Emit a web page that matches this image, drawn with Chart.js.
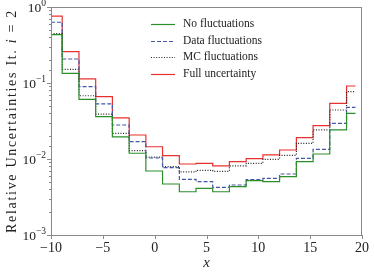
<!DOCTYPE html>
<html>
<head>
<meta charset="utf-8">
<script src="https://cdn.jsdelivr.net/npm/chart.js@4.4.1/dist/chart.umd.min.js"></script>
<style>
  html, body { margin: 0; padding: 0; background: #fff; }
  #wrap { width: 374px; height: 272px; }
</style>
</head>
<body>
<div id="wrap"><canvas id="relChart" width="374" height="272"></canvas></div>
<script>
// bin edges along x; the last entry closes the final bin
const binEdges = [-10, -8.92, -7.30, -5.69, -4.08, -2.46, -0.85, 0.76, 2.38, 3.99, 5.60, 7.21, 8.83, 10.44, 12.05, 13.67, 15.28, 16.89, 18.51, 19.37];

// relative uncertainty per bin
const noFluct   = [0.432, 0.134, 0.061, 0.036, 0.0196, 0.0119, 0.00695, 0.00469, 0.00371, 0.00411, 0.00371, 0.00432, 0.00518, 0.00503, 0.00585, 0.00922, 0.01164, 0.0241, 0.0399];
const dataFluct = [0.63, 0.207, 0.0894, 0.053, 0.028, 0.0169, 0.0103, 0.00769, 0.0054, 0.00503, 0.00424, 0.00455, 0.00534, 0.00557, 0.00635, 0.0102, 0.0134, 0.0295, 0.0479];
const mcFluct   = [0.445, 0.151, 0.068, 0.039, 0.0218, 0.01286, 0.0106, 0.00792, 0.00675, 0.0071, 0.00689, 0.0081, 0.00878, 0.0099, 0.01117, 0.0161, 0.0241, 0.0441, 0.0769];
const fullUnc   = [0.76, 0.258, 0.113, 0.066, 0.0347, 0.0207, 0.0145, 0.01105, 0.0086, 0.00878, 0.0081, 0.00922, 0.0101, 0.0113, 0.01313, 0.0191, 0.0275, 0.054, 0.0913];

const seriesLabels = ['No fluctuations', 'Data fluctuations', 'MC fluctuations', 'Full uncertainty'];
const xTickValues = [-10, -5, 0, 5, 10, 15, 20];

const serif = "'Liberation Serif', 'DejaVu Serif', serif";
const axisGray = '#8a8a8a';
const textColor = '#222';

// histogram as step line: each bin value held from its left edge to the next edge
function toSteps(vals) {
    const pts = vals.map((v, i) => ({ x: binEdges[i], y: v }));
    pts.push({ x: binEdges[vals.length], y: vals[vals.length - 1] });
    return pts;
}

function minusSign(v) {
    return v < 0 ? '\u2212' + Math.abs(v) : String(v);
}

// exponent for exact powers of ten, null otherwise
function decade(v) {
    const e = Math.round(Math.log10(v));
    return Math.abs(Math.log10(v) - e) < 1e-6 ? e : null;
}

// frame, tick marks (major + log minor), y tick labels, legend and y title
const decorations = {
    id: 'decorations',
    afterDraw(chart) {
        const { ctx, chartArea: a, scales: { x, y } } = chart;
        ctx.save();
        ctx.strokeStyle = axisGray;
        ctx.lineWidth = 1;
        ctx.strokeRect(a.left + 0.5, a.top + 0.5, a.right - a.left - 1, a.bottom - a.top);

        ctx.beginPath();
        y.ticks.forEach(t => {
            const py = Math.round(y.getPixelForValue(t.value)) + 0.5;
            const major = decade(t.value) !== null;
            ctx.moveTo(a.left, py);
            ctx.lineTo(a.left - (major ? 4 : 2), py);
        });
        xTickValues.forEach(v => {
            const px = Math.round(x.getPixelForValue(v)) + 0.5;
            ctx.moveTo(px, a.bottom);
            ctx.lineTo(px, a.bottom + 4);
        });
        ctx.stroke();

        // y tick labels as 10 with raised exponent
        ctx.fillStyle = textColor;
        ctx.textBaseline = 'alphabetic';
        ctx.textAlign = 'left';
        y.ticks.forEach(t => {
            const e = decade(t.value);
            if (e === null) return;
            const py = y.getPixelForValue(t.value);
            const exp = minusSign(e);
            ctx.font = '9.5px ' + serif;
            const ew = ctx.measureText(exp).width;
            ctx.font = '13.5px ' + serif;
            const bw = ctx.measureText('10').width;
            const right = a.left - 5;
            ctx.fillText('10', right - ew - bw, py + 5);
            ctx.font = '9.5px ' + serif;
            ctx.fillText(exp, right - ew, py - 1);
        });

        // legend
        ctx.font = '11.5px ' + serif;
        ctx.textBaseline = 'middle';
        chart.data.datasets.forEach((ds, i) => {
            const ly = 24 + i * 16.7;
            ctx.strokeStyle = ds.borderColor;
            ctx.lineWidth = ds.borderWidth;
            ctx.setLineDash(ds.borderDash || []);
            ctx.beginPath();
            ctx.moveTo(151, Math.round(ly) + 0.5);
            ctx.lineTo(175, Math.round(ly) + 0.5);
            ctx.stroke();
            ctx.setLineDash([]);
            ctx.fillStyle = textColor;
            ctx.fillText(ds.label, 183, ly);
        });

        // y axis title with italic i, spread to the axis height
        ctx.translate(12, (a.top + a.bottom) / 2);
        ctx.rotate(-Math.PI / 2);
        const parts = [['Relative Uncertainties It. ', 'normal'], ['i', 'italic'], [' = 2', 'normal']];
        const size = 14;
        let plain = 0, nChars = 0;
        ctx.letterSpacing = '0px';
        parts.forEach(p => {
            ctx.font = p[1] + ' ' + size + 'px ' + serif;
            plain += ctx.measureText(p[0]).width;
            nChars += p[0].length;
        });
        const spacing = Math.max(0, (224 - plain) / nChars);
        ctx.letterSpacing = spacing.toFixed(2) + 'px';
        let cx = -(plain + spacing * nChars) / 2;
        ctx.fillStyle = textColor;
        ctx.textBaseline = 'middle';
        parts.forEach(p => {
            ctx.font = p[1] + ' ' + size + 'px ' + serif;
            ctx.fillText(p[0], cx, 0);
            cx += ctx.measureText(p[0]).width;
        });
        ctx.restore();
    }
};

const chartCtx = document.getElementById('relChart').getContext('2d');
new Chart(chartCtx, {
    type: 'line',
    data: {
        datasets: [
            { label: seriesLabels[0], data: toSteps(noFluct), borderColor: '#2a8f2a', borderWidth: 1.2 },
            { label: seriesLabels[1], data: toSteps(dataFluct), borderColor: '#4656a6', borderWidth: 1.2, borderDash: [4, 2] },
            { label: seriesLabels[2], data: toSteps(mcFluct), borderColor: '#222', borderWidth: 1.2, borderDash: [1, 1.6] },
            { label: seriesLabels[3], data: toSteps(fullUnc), borderColor: '#e8302f', borderWidth: 1.2 }
        ]
    },
    options: {
        responsive: false,
        animation: false,
        events: [],
        elements: {
            line: { stepped: 'before', fill: false, tension: 0 },
            point: { radius: 0 }
        },
        layout: { padding: { top: 7, right: 10, left: 0, bottom: 0 } },
        plugins: {
            legend: { display: false },
            tooltip: { enabled: false }
        },
        scales: {
            x: {
                type: 'linear',
                min: -10,
                max: 20,
                grid: { display: false, drawTicks: false },
                border: { display: false },
                afterBuildTicks: scale => { scale.ticks = xTickValues.map(v => ({ value: v })); },
                afterFit: scale => { scale.height = 37; },
                ticks: {
                    padding: 5,
                    color: textColor,
                    font: { family: serif, size: 14 },
                    maxRotation: 0,
                    callback: v => minusSign(v)
                },
                title: {
                    display: true,
                    text: 'x',
                    color: textColor,
                    padding: 0,
                    font: { family: serif, size: 15, style: 'italic' }
                }
            },
            y: {
                type: 'logarithmic',
                min: 0.001,
                max: 1,
                grid: { display: false, drawTicks: false },
                border: { display: false },
                afterFit: scale => { scale.width = 51; },
                ticks: {
                    display: false,
                    autoSkip: false
                }
            }
        }
    },
    plugins: [decorations]
});
</script>
</body>
</html>
